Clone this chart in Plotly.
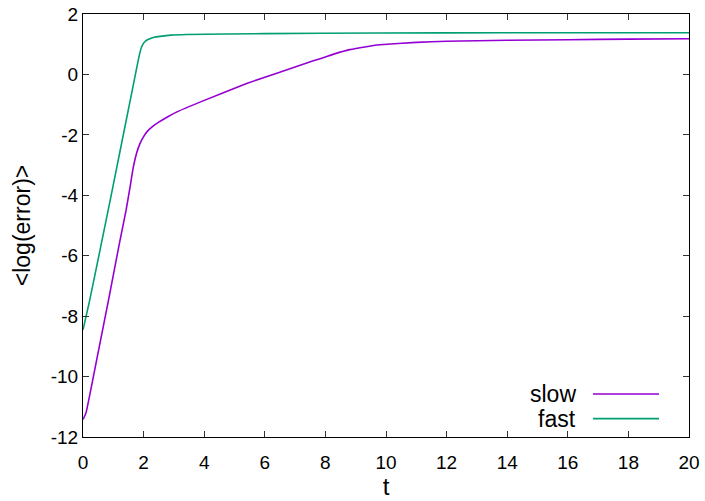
import plotly.graph_objects as go

# Mean log error over time for the two integration modes
slow_t = [0, 0.1, 0.5, 0.84, 1.2, 1.42, 1.55, 1.66, 1.77, 1.88, 2.0, 2.1, 2.3,
          2.5, 2.8, 3.1, 3.9, 5.4, 7.6, 8.0, 8.3, 8.8, 9.3, 9.8, 11, 12, 14,
          16, 18, 20]
slow_v = [-11.42, -11.2, -9.2, -7.48, -5.6, -4.5, -3.75, -3.07, -2.6, -2.29,
          -2.06, -1.91, -1.72, -1.58, -1.4, -1.24, -0.9, -0.3, 0.45, 0.58, 0.68,
          0.82, 0.91, 0.98, 1.06, 1.1, 1.13, 1.15, 1.17, 1.18]

fast_t = [0, 0.22, 0.87, 1.11, 1.33, 1.5, 1.72, 1.85, 1.93, 1.99, 2.05, 2.1,
          2.21, 2.35, 2.54, 2.9, 3.42, 6, 9.8, 14, 20]
fast_v = [-8.45, -7.48, -4.3, -3.1, -2.0, -1.15, -0.05, 0.6, 0.9, 1.02, 1.09,
          1.13, 1.18, 1.23, 1.26, 1.3, 1.32, 1.35, 1.37, 1.38, 1.38]

series_names = ["slow", "fast"]
series_colors = ["#9400D3", "#009E73"]

x_ticks = list(range(0, 21, 2))
y_ticks = list(range(-12, 3, 2))
y_tick_text = [str(v) for v in y_ticks]  # plain hyphen-minus labels

FONT = "Liberation Sans, Arial, sans-serif"

fig = go.Figure()
for name, t, v, c in zip(series_names, [slow_t, fast_t], [slow_v, fast_v], series_colors):
    fig.add_trace(go.Scatter(x=t, y=v, mode="lines", name=name,
                             line=dict(color=c, width=1.6, shape="spline", smoothing=0.3),
                             showlegend=False))

axis_common = dict(
    showline=True, linecolor="black", linewidth=1, mirror="ticks",
    ticks="inside", ticklen=6, tickcolor="#333333", tickwidth=1,
    showgrid=False, zeroline=False, automargin=False,
    tickfont=dict(family=FONT, size=19, color="black"),
)

fig.update_xaxes(range=[0, 20], tickvals=x_ticks, ticklabelstandoff=8,
                 title=dict(text="t", font=dict(family=FONT, size=24, color="black"), standoff=2),
                 **axis_common)
fig.update_yaxes(range=[-12, 2], tickvals=y_ticks, ticktext=y_tick_text,
                 title=dict(text="&lt;log(error)&gt;", font=dict(family=FONT, size=23, color="black"), standoff=13),
                 **axis_common)

# key: label on the left, line sample on the right
key_y = [0.1017, 0.0435]
for name, c, ky in zip(series_names, series_colors, key_y):
    fig.add_annotation(x=0.817, y=ky, xref="paper", yref="paper", text=name,
                       showarrow=False, xanchor="right", yanchor="middle",
                       font=dict(family=FONT, size=23, color="black"))
    fig.add_shape(type="line", xref="paper", yref="paper", x0=0.8416, x1=0.9505,
                  y0=ky, y1=ky, line=dict(color=c, width=1.6))

fig.update_layout(
    width=705, height=501,
    margin=dict(l=83, r=16, t=14, b=64),
    paper_bgcolor="white", plot_bgcolor="white",
    font=dict(family=FONT, color="black"),
)

fig.write_html("out.html")
